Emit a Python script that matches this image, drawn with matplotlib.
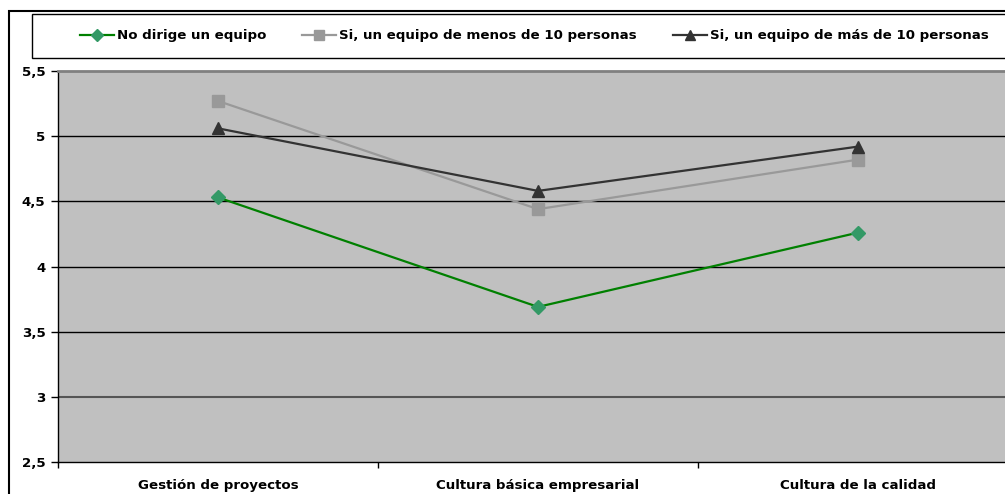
import matplotlib
matplotlib.use("Agg")
import matplotlib.pyplot as plt
from matplotlib.lines import Line2D
from matplotlib.patches import Rectangle

categories = ["Gestión de proyectos", "Cultura básica empresarial", "Cultura de la calidad"]
series_names = ["No dirige un equipo",
                "Si, un equipo de menos de 10 personas",
                "Si, un equipo de más de 10 personas"]
no_dirige = [4.53, 3.69, 4.26]
menos_10 = [5.27, 4.44, 4.82]
mas_10 = [5.06, 4.58, 4.92]
y_ticks = [2.5, 3, 3.5, 4, 4.5, 5, 5.5]
y_tick_labels = ["2,5", "3", "3,5", "4", "4,5", "5", "5,5"]

plt.rcParams['font.family'] = ['DejaVu Sans']
FS = 9.6

W, H = 1005, 494
fig = plt.figure(figsize=(W / 100, H / 100), dpi=100)

def fx(px):
    return px / W

def fy(py):
    return 1 - py / H

# outer border
fig.add_artist(Rectangle((fx(9), fy(500)), fx(1010) - fx(9), fy(11) - fy(500),
                         transform=fig.transFigure, fill=False, edgecolor='black',
                         linewidth=1.5, zorder=0))

ax = fig.add_axes([fx(58), fy(462), fx(1018) - fx(58), fy(71) - fy(462)])
ax.set_facecolor('#c0c0c0')

styles = [
    dict(color='#008000', marker='D', markerfacecolor='#339966', markeredgecolor='#339966', markersize=7),
    dict(color='#999999', marker='s', markerfacecolor='#999999', markeredgecolor='#999999', markersize=8),
    dict(color='#333333', marker='^', markerfacecolor='#333333', markeredgecolor='#333333', markersize=8.5),
]
data = [no_dirige, menos_10, mas_10]
x = list(range(len(categories)))
for vals, st in zip(data, styles):
    ax.plot(x, vals, linewidth=1.6, zorder=3, clip_on=False, **st)

ax.set_xlim(-0.5, 2.5)
ax.set_ylim(2.5, 5.5)
ax.set_yticks(y_ticks)
ax.set_yticklabels(y_tick_labels, fontsize=FS, fontweight='bold')
ax.set_xticks(x)
ax.set_xticklabels(categories, fontsize=FS, fontweight='bold')
ax.tick_params(axis='x', length=0, pad=12)
ax.set_xticks([-0.5, 0.5, 1.5], minor=True)
ax.tick_params(axis='x', which='minor', length=4, width=1, color='black')
ax.tick_params(axis='y', length=5, width=1, color='black', pad=4)

for yv in [3.5, 4, 4.5, 5]:
    ax.axhline(yv, color='black', linewidth=1, zorder=1)
ax.axhline(3, color='#555555', linewidth=1.5, zorder=1)

ax.spines['right'].set_visible(False)
ax.spines['top'].set_color('#808080')
ax.spines['top'].set_linewidth(2)
ax.spines['left'].set_color('black')
ax.spines['bottom'].set_color('black')
ax.spines['left'].set_linewidth(1)
ax.spines['bottom'].set_linewidth(1)

# legend box
fig.add_artist(Rectangle((fx(32), fy(58)), fx(1010) - fx(32), fy(14) - fy(58),
                         transform=fig.transFigure, fill=True, facecolor='white',
                         edgecolor='black', linewidth=1, zorder=1))
leg_x = [80, 302, 673]
ly = fy(35)
for lx, name, st in zip(leg_x, series_names, styles):
    fig.add_artist(Line2D([fx(lx), fx(lx + 34)], [ly, ly], transform=fig.transFigure,
                          color=st['color'], linewidth=1.6, zorder=2))
    fig.add_artist(Line2D([fx(lx + 17)], [ly], transform=fig.transFigure,
                          marker=st['marker'], markerfacecolor=st['markerfacecolor'],
                          markeredgecolor=st['markeredgecolor'],
                          markersize=st['markersize'] * 0.85, linestyle='None', zorder=3))
    fig.text(fx(lx + 37), ly, name, fontsize=FS, fontweight='bold', va='center', ha='left', zorder=3)

fig.savefig('out.png', dpi=100)
